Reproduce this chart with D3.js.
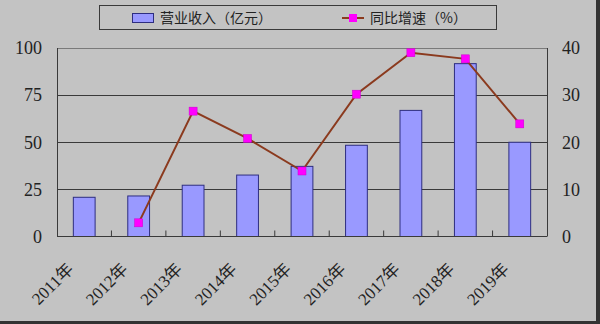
<!DOCTYPE html>
<html>
<head>
<meta charset="utf-8">
<style>
  body { margin: 0; background: #c3c3c3; }
  svg { display: block; }
  text { fill: #222; }
</style>
</head>
<body>
<svg id="chart" width="600" height="324"></svg>

<script src="https://d3js.org/d3.v7.min.js"></script>
<script>
  // data
  var years = ["2011年", "2012年", "2013年", "2014年", "2015年", "2016年", "2017年", "2018年", "2019年"];
  var revenue = [20.8, 21.5, 27.2, 32.6, 37.2, 48.4, 66.9, 91.7, 50.0];   // 营业收入（亿元）
  var growth = [null, 2.9, 26.6, 20.8, 13.9, 30.2, 39.0, 37.7, 23.9];     // 同比增速（%）
  var leftTicks = [0, 25, 50, 75, 100];
  var rightTicks = [0, 10, 20, 30, 40];

  var svg = d3.select("#chart");
  // plot area edges (don't call it "top", window.top is read only)
  var pLeft = 57, pRight = 547, pTop = 48, pBottom = 236.5;
  var serif = "'Liberation Serif', 'Times New Roman', 'Noto Sans CJK SC', serif";
  var cjk = "'Noto Sans CJK SC', sans-serif";

  // scales
  var x = d3.scaleBand().domain(years).range([pLeft, pRight])
    .paddingInner(0.6).paddingOuter(0.3);
  var yL = d3.scaleLinear().domain([0, 100]).range([pBottom, pTop]);
  var yR = d3.scaleLinear().domain([0, 40]).range([pBottom, pTop]);
  var step = x.step();

  // frame shadow (right and bottom)
  svg.append("rect").attr("x", 596).attr("y", 0).attr("width", 4).attr("height", 324).attr("fill", "#333");
  svg.append("rect").attr("x", 0).attr("y", 321).attr("width", 600).attr("height", 3).attr("fill", "#333");

  // gridlines
  svg.append("g").selectAll("line")
    .data([25, 50, 75])
    .enter().append("line")
    .attr("x1", pLeft).attr("x2", pRight)
    .attr("y1", function (d) { return Math.round(yL(d)) + 0.5 })
    .attr("y2", function (d) { return Math.round(yL(d)) + 0.5 })
    .attr("stroke", "#3a3a3a").attr("stroke-width", 1);

  // plot border
  svg.append("line").attr("x1", pLeft).attr("x2", pRight).attr("y1", pTop + 0.5).attr("y2", pTop + 0.5)
    .attr("stroke", "#7a7a7a");
  svg.append("line").attr("x1", pRight + 0.5).attr("x2", pRight + 0.5).attr("y1", pTop).attr("y2", pBottom)
    .attr("stroke", "#3a3a3a");
  svg.append("line").attr("x1", pLeft + 0.5).attr("x2", pLeft + 0.5).attr("y1", pTop).attr("y2", pBottom)
    .attr("stroke", "#3a3a3a");

  // bars
  svg.append("g").selectAll("rect")
    .data(revenue)
    .enter().append("rect")
    .attr("x", function (d, i) { return x(years[i]) })
    .attr("y", function (d) { return yL(d) })
    .attr("width", x.bandwidth())
    .attr("height", function (d) { return pBottom - yL(d) })
    .attr("fill", "#9999ff")
    .attr("stroke", "#2e2e80").attr("stroke-width", 1);

  // x axis line and inner ticks at category boundaries
  svg.append("line").attr("x1", pLeft).attr("x2", pRight).attr("y1", pBottom).attr("y2", pBottom)
    .attr("stroke", "#3a3a3a");
  svg.append("g").selectAll("line")
    .data(years.slice(1))
    .enter().append("line")
    .attr("x1", function (d) { return x(d) - step * 0.3 })
    .attr("x2", function (d) { return x(d) - step * 0.3 })
    .attr("y1", pBottom).attr("y2", pBottom - 6)
    .attr("stroke", "#3a3a3a");

  // line series
  var pts = growth.map(function (v, i) { return { year: years[i], v: v } })
    .filter(function (d) { return d.v !== null });
  var line = d3.line()
    .x(function (d) { return x(d.year) + x.bandwidth() / 2 })
    .y(function (d) { return yR(d.v) });
  svg.append("path").datum(pts)
    .attr("d", line)
    .attr("fill", "none").attr("stroke", "#8b3a1e").attr("stroke-width", 2);
  svg.append("g").selectAll("rect")
    .data(pts)
    .enter().append("rect")
    .attr("x", function (d) { return x(d.year) + x.bandwidth() / 2 - 4 })
    .attr("y", function (d) { return yR(d.v) - 4 })
    .attr("width", 8).attr("height", 8)
    .attr("fill", "#ff00ff").attr("stroke", "#cc00cc").attr("stroke-width", 0.5);

  // left axis labels
  svg.append("g").selectAll("text")
    .data(leftTicks)
    .enter().append("text")
    .attr("x", 42).attr("y", function (d) { return yL(d) })
    .attr("dy", "0.35em")
    .attr("text-anchor", "end")
    .style("font-family", serif).style("font-size", "18px")
    .text(function (d) { return d });

  // right axis labels
  svg.append("g").selectAll("text")
    .data(rightTicks)
    .enter().append("text")
    .attr("x", 562).attr("y", function (d) { return yR(d) })
    .attr("dy", "0.35em")
    .attr("text-anchor", "start")
    .style("font-family", serif).style("font-size", "18px")
    .text(function (d) { return d });

  // x labels, rotated
  svg.append("g").selectAll("text")
    .data(years)
    .enter().append("text")
    .attr("transform", function (d) {
      return "translate(" + (x(d) + x.bandwidth() / 2 - 14) + ",266) rotate(-45)";
    })
    .attr("dy", "0.35em")
    .attr("text-anchor", "end")
    .style("font-family", serif).style("font-size", "17px")
    .text(function (d) { return d });

  // legend
  var lg = svg.append("g");
  lg.append("rect").attr("x", 99.5).attr("y", 5.5).attr("width", 397).attr("height", 24)
    .attr("fill", "none").attr("stroke", "#3a3a3a");
  lg.append("rect").attr("x", 132.5).attr("y", 13.5).attr("width", 21).attr("height", 9)
    .attr("fill", "#9999ff").attr("stroke", "#2e2e80");
  lg.append("text").attr("x", 160).attr("y", 18).attr("dy", "0.35em")
    .style("font-family", cjk).style("font-size", "14px")
    .text("营业收入（亿元）");
  lg.append("line").attr("x1", 342).attr("x2", 364).attr("y1", 18).attr("y2", 18)
    .attr("stroke", "#8b3a1e").attr("stroke-width", 2);
  lg.append("rect").attr("x", 349).attr("y", 14).attr("width", 8).attr("height", 8)
    .attr("fill", "#ff00ff");
  lg.append("text").attr("x", 370).attr("y", 18).attr("dy", "0.35em")
    .style("font-family", cjk).style("font-size", "14px")
    .text("同比增速（%）");
</script>
</body>
</html>
